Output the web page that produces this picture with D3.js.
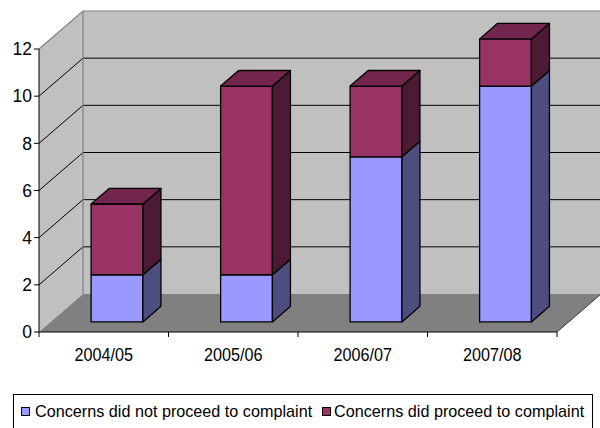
<!DOCTYPE html>
<html>
<head>
<meta charset="utf-8">
<script src="https://cdn.jsdelivr.net/npm/d3@7"></script>
<style>
  html, body { margin: 0; padding: 0; background: #fff; }
  svg { display: block; font-family: "Liberation Sans", Arial, sans-serif; }
</style>
</head>
<body>
<svg id="chart" width="600" height="428"></svg>
<script>
// Chart data
const categories = ["2004/05", "2005/06", "2006/07", "2007/08"];
const seriesNames = ["Concerns did not proceed to complaint", "Concerns did proceed to complaint"];
const notProceeded = [2, 2, 7, 10];
const proceeded = [3, 8, 3, 2];
const yTicks = [0, 2, 4, 6, 8, 10, 12];

// Colours per series: front, top, side
const palette = [
  { front: "#9999FF", top: "#7373BF", side: "#4D4D80" },
  { front: "#993366", top: "#73264D", side: "#4D1A33" }
];

const svg = d3.select("#chart");

// Front plane of the 3D box and its depth offset
const left = 39, right = 557, base = 332, topY = 49;
const depthX = 44, depthY = -38;
const barFront = 0.265, barBack = 0.675;

const x = d3.scaleBand().domain(categories).range([left, right]).padding(0);
const y = d3.scaleLinear().domain([0, 12]).range([base, topY]);

// project a point on the front plane back by depth fraction f
const P = (px, v, f) => [px + f * depthX, y(v) + f * depthY];
const pts = arr => arr.map(p => p.join(",")).join(" ");

const yMax = 12;

// Left side wall
svg.append("polygon")
  .attr("points", pts([P(left, 0, 0), P(left, yMax, 0), P(left, yMax, 1), P(left, 0, 1)]))
  .attr("fill", "#C0C0C0");

// Back wall
svg.append("polygon")
  .attr("points", pts([P(left, 0, 1), P(left, yMax, 1), P(right, yMax, 1), P(right, 0, 1)]))
  .attr("fill", "#C0C0C0");

// Gridlines on the side and back walls
const gridVals = yTicks.filter(v => v > 0 && v < yMax);
const grid = svg.append("g").attr("stroke", "#000").attr("stroke-width", 1).attr("fill", "none");
gridVals.forEach(v => {
  grid.append("polyline")
    .attr("points", pts([P(left, v, 0), P(left, v, 1), P(right, v, 1)]));
});

// Wall borders
svg.append("polyline")
  .attr("points", pts([P(left, yMax, 0), P(left, yMax, 1), P(right, yMax, 1)]))
  .attr("fill", "none").attr("stroke", "#808080").attr("stroke-width", 1.2);
svg.append("line")
  .attr("x1", P(left, 0, 1)[0]).attr("y1", P(left, 0, 1)[1])
  .attr("x2", P(left, yMax, 1)[0]).attr("y2", P(left, yMax, 1)[1])
  .attr("stroke", "#808080").attr("stroke-width", 1.2);

// Floor
svg.append("polygon")
  .attr("points", pts([P(left, 0, 0), P(right, 0, 0), P(right, 0, 1), P(left, 0, 1)]))
  .attr("fill", "#808080");
svg.append("line")
  .attr("x1", P(right, 0, 0)[0]).attr("y1", P(right, 0, 0)[1])
  .attr("x2", P(right, 0, 1)[0]).attr("y2", P(right, 0, 1)[1])
  .attr("stroke", "#333").attr("stroke-width", 1);

// Axes
const axes = svg.append("g").attr("stroke", "#000").attr("stroke-width", 1);
axes.append("line").attr("x1", left).attr("x2", left).attr("y1", y(yMax)).attr("y2", base);
axes.append("line").attr("x1", left).attr("x2", right).attr("y1", base).attr("y2", base);
yTicks.forEach(v => {
  axes.append("line").attr("x1", left - 5).attr("x2", left).attr("y1", y(v)).attr("y2", y(v));
});
const xTickPos = categories.map(c => x(c)).concat([right]);
xTickPos.forEach(px => {
  axes.append("line").attr("x1", px).attr("x2", px).attr("y1", base).attr("y2", base + 5);
});

// Y tick labels
svg.append("g").selectAll("text").data(yTicks).join("text")
  .attr("x", left - 7).attr("y", d => y(d)).attr("dy", "0.36em")
  .attr("text-anchor", "end").attr("font-size", 17.5).attr("fill", "#000")
  .text(d => d);

// X category labels (tall, slightly narrow lettering)
svg.append("g").selectAll("text").data(categories).join("text")
  .attr("transform", d => `translate(${x(d) + x.bandwidth() / 2},360.5) scale(0.875,1)`)
  .attr("text-anchor", "middle").attr("font-size", 18.5).attr("fill", "#000")
  .text(d => d);

// Stacked 3D bars
const stacked = d3.stack().keys([0, 1])(categories.map((c, i) => ({ 0: notProceeded[i], 1: proceeded[i] })));
const bars = svg.append("g").attr("stroke", "#000").attr("stroke-width", 1.3).attr("stroke-linejoin", "round");
categories.forEach((c, i) => {
  const bx0 = x(c) + x.bandwidth() * 0.3 + 1.6;
  const bx1 = bx0 + x.bandwidth() * 0.4;
  stacked.forEach((layer, s) => {
    const [v0, v1] = layer[i];
    const col = palette[s];
    // front face
    bars.append("polygon")
      .attr("points", pts([P(bx0, v0, barFront), P(bx1, v0, barFront), P(bx1, v1, barFront), P(bx0, v1, barFront)]))
      .attr("fill", col.front);
    // right side face
    bars.append("polygon")
      .attr("points", pts([P(bx1, v0, barFront), P(bx1, v0, barBack), P(bx1, v1, barBack), P(bx1, v1, barFront)]))
      .attr("fill", col.side);
    // top face on the uppermost segment
    if (s === stacked.length - 1) {
      bars.append("polygon")
        .attr("points", pts([P(bx0, v1, barFront), P(bx1, v1, barFront), P(bx1, v1, barBack), P(bx0, v1, barBack)]))
        .attr("fill", col.top);
    }
  });
});

// Legend
const legend = svg.append("g");
legend.append("rect")
  .attr("x", 13.5).attr("y", 394.5).attr("width", 579).attr("height", 60)
  .attr("fill", "#fff").attr("stroke", "#000").attr("stroke-width", 1);
const legendItems = [
  { name: seriesNames[0], mx: 21, tx: 35, col: palette[0].front },
  { name: seriesNames[1], mx: 322, tx: 334, col: palette[1].front }
];
legendItems.forEach(it => {
  legend.append("rect")
    .attr("x", it.mx + 0.5).attr("y", 407.5).attr("width", 8).attr("height", 8)
    .attr("fill", it.col).attr("stroke", "#000").attr("stroke-width", 1);
  legend.append("text")
    .attr("x", it.tx).attr("y", 417)
    .attr("font-size", 16.2).attr("fill", "#000")
    .text(it.name);
});
</script>
</body>
</html>
